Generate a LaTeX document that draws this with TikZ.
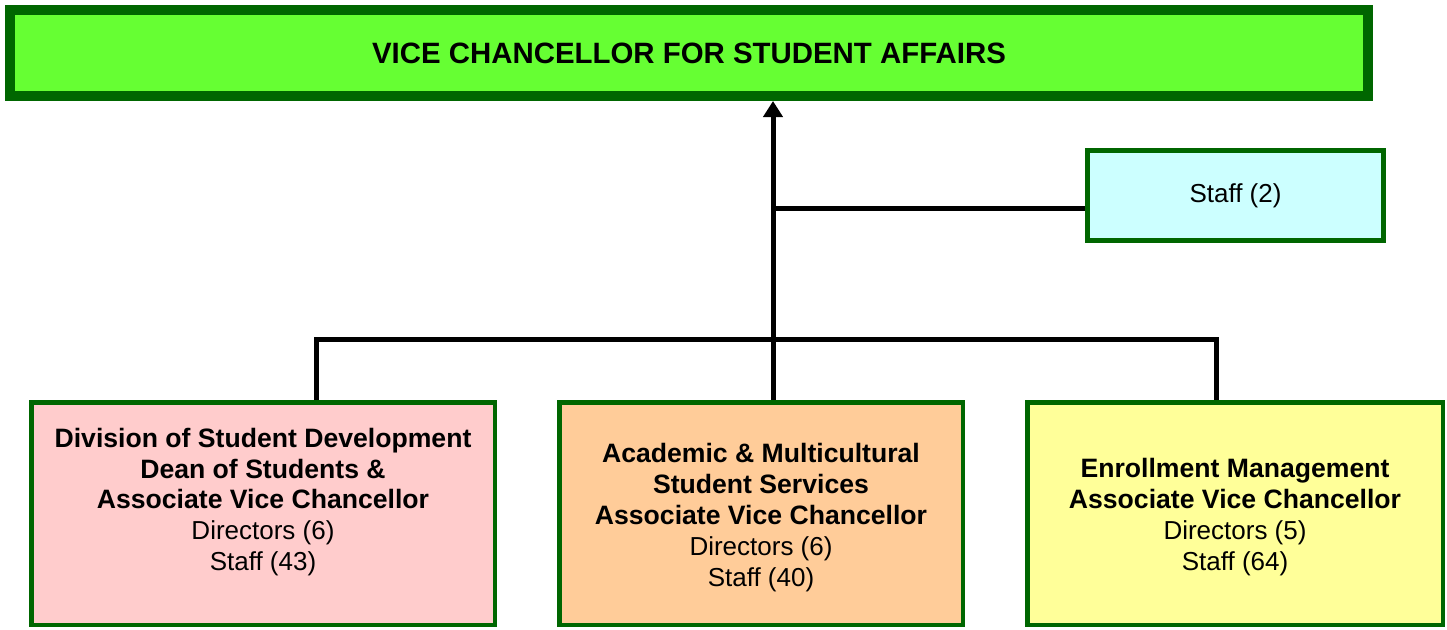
\documentclass[tikz,border=0pt]{standalone}
\usepackage{fontspec}
\setmainfont{Liberation Sans}
\usetikzlibrary{arrows.meta}
\definecolor{bordergreen}{HTML}{006600}
\definecolor{topfill}{HTML}{66FF33}
\definecolor{staffill}{HTML}{CCFFFF}
\definecolor{pinkfill}{HTML}{FFCCCC}
\definecolor{orangefill}{HTML}{FFCC99}
\definecolor{yellowfill}{HTML}{FFFF99}
\newcommand{\hd}[1]{{\fontsize{26.6}{30.8}\selectfont\bfseries #1}}
\tikzset{
  orgbox/.style={draw=bordergreen, line width=4.5pt, rectangle, inner sep=0pt},
  txt/.style={align=center, inner sep=0pt, font=\fontsize{26}{30.8}\selectfont},
  conn/.style={draw=black, line width=5pt},
}
\begin{document}
\begin{tikzpicture}[x=1pt,y=-1pt]
\useasboundingbox (0,0) rectangle (1447,629);
% top box
\node[orgbox, line width=10pt, fill=topfill, minimum width=1358pt, minimum height=86pt,
      font=\fontsize{29.4}{34}\selectfont\bfseries] (vc) at (689,53) {VICE CHANCELLOR FOR STUDENT AFFAIRS};
% staff box
\node[orgbox, line width=5pt, fill=staffill, minimum width=296pt, minimum height=90pt,
      font=\fontsize{26}{30.8}\selectfont] (staff) at (1235.5,195.5) {Staff (2)};
% lower boxes
\node[orgbox, fill=pinkfill, minimum width=463.5pt, minimum height=222.5pt] (dsd) at (263,513.5) {};
\node[orgbox, fill=orangefill, minimum width=403.5pt, minimum height=222.5pt] (amss) at (761,513.5) {};
\node[orgbox, fill=yellowfill, minimum width=415.5pt, minimum height=222.5pt] (em) at (1235,513.5) {};
% texts
\node[txt] (dsdt) at (263,502) {\hd{Division of Student Development}\\\hd{Dean of Students \&}\\\hd{Associate Vice Chancellor}\\Directors (6)\\Staff (43)};
\node[txt] (amsst) at (761,517.5) {\hd{Academic \& Multicultural}\\\hd{Student Services}\\\hd{Associate Vice Chancellor}\\Directors (6)\\Staff (40)};
\node[txt] (emt) at (1235,517) {\hd{Enrollment Management}\\\hd{Associate Vice Chancellor}\\Directors (5)\\Staff (64)};
% connectors
\coordinate (spine) at (773,339.5);
\coordinate (staffjoin) at (773,208);
\coordinate (lbus) at (316.5,339.5);
\coordinate (rbus) at (1216.5,339.5);
\draw[conn, -{Triangle[length=16pt 0,width=19pt 0]}] (amss.north -| spine) -- (vc.south -| spine);
\draw[conn] (staffjoin) -- (staff.west |- staffjoin);
\draw[conn] (dsd.north -| lbus) -- (lbus) -- (rbus) -- (em.north -| rbus);
\end{tikzpicture}
\end{document}
